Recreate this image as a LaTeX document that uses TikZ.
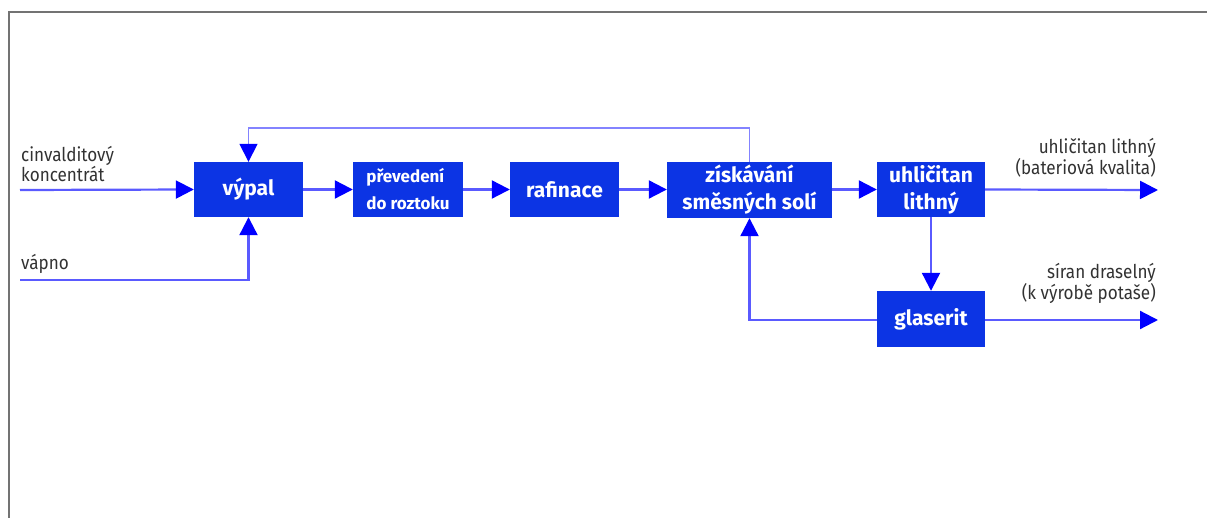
\documentclass[tikz,border=0pt]{standalone}
\usepackage{fontspec}
\setmainfont{Fira Sans}
\newfontfamily\labelfont[FakeStretch=0.9]{Fira Sans}
\usetikzlibrary{arrows.meta}
\definecolor{boxblue}{RGB}{12,52,228}
\definecolor{lineblue}{RGB}{90,90,255}
\definecolor{tipblue}{RGB}{0,0,255}
\definecolor{framegray}{RGB}{115,115,115}
\definecolor{labelgray}{RGB}{50,50,50}
\begin{document}
\begin{tikzpicture}[x=1pt,y=-1pt,
  proc/.style={fill=boxblue, draw=none, text=white, inner sep=0pt,
    font=\bfseries\fontsize{21}{27}\selectfont, align=center,
    minimum height=55pt},
  flow/.style={draw=lineblue, line width=2.2pt,
    -{Triangle[length=18pt,width=18pt,color=tipblue]}},
  lbl/.style={text=labelgray, inner sep=0pt,
    font=\labelfont\fontsize{19}{20}\selectfont}
]
\useasboundingbox (0,0) rectangle (1207,518);
\draw[framegray, line width=2pt] (8.5,518) -- (8.5,12.5) -- (1207,12.5);

\node[proc, minimum width=109pt] (vypal) at (248.5,189.5) {výpal};
\node[proc, minimum width=110pt, align=left,
  font=\bfseries\fontsize{17}{27}\selectfont] (preved) at (408,189.5) {převedení\\do roztoku};
\node[proc, minimum width=109pt] (rafin) at (564.5,189.5) {rafinace};
\node[proc, minimum width=165pt, minimum height=56pt] (zisk) at (749.5,190) {získávání\\směsných solí};
\node[proc, minimum width=108pt] (uhl) at (931,189.5) {uhličitan\\lithný};
\node[proc, minimum width=108pt, minimum height=56pt] (glas) at (931,319) {glaserit};

\coordinate (inA) at (20,190);
\coordinate (inB) at (20,280);
\coordinate (outA) at (1158,190);
\coordinate (outB) at (1158,320);

\node[lbl, anchor=north west, align=left] (lA) at (21,146) {cinvalditový\\koncentrát};
\node[lbl, anchor=north west] (lB) at (21,254) {vápno};
\node[lbl, anchor=north east, align=right] (lC) at (1156,138) {uhličitan lithný\\(bateriová kvalita)};
\node[lbl, anchor=north east, align=right] (lD) at (1156,263) {síran draselný\\(k výrobě potaše)};

\draw[flow] (inA) -- (vypal.west);
\draw[flow] (inB) -| (vypal.south);
\draw[flow] (vypal.east) -- (preved.west);
\draw[flow] (preved.east) -- (rafin.west);
\draw[flow] (rafin.east) -- (zisk.west |- rafin.east);
\draw[flow] (zisk.east |- uhl.west) -- (uhl.west);
\draw[flow, line width=1.6pt, draw=lineblue!75] (zisk.north) -- ++(0,-34) -| (vypal.north);
\draw[flow] (uhl.east) -- (outA);
\draw[flow] (uhl.south) -- (glas.north);
\draw[flow] (glas.west |- outB) -| (zisk.south);
\draw[flow] (glas.east |- outB) -- (outB);
\end{tikzpicture}
\end{document}
